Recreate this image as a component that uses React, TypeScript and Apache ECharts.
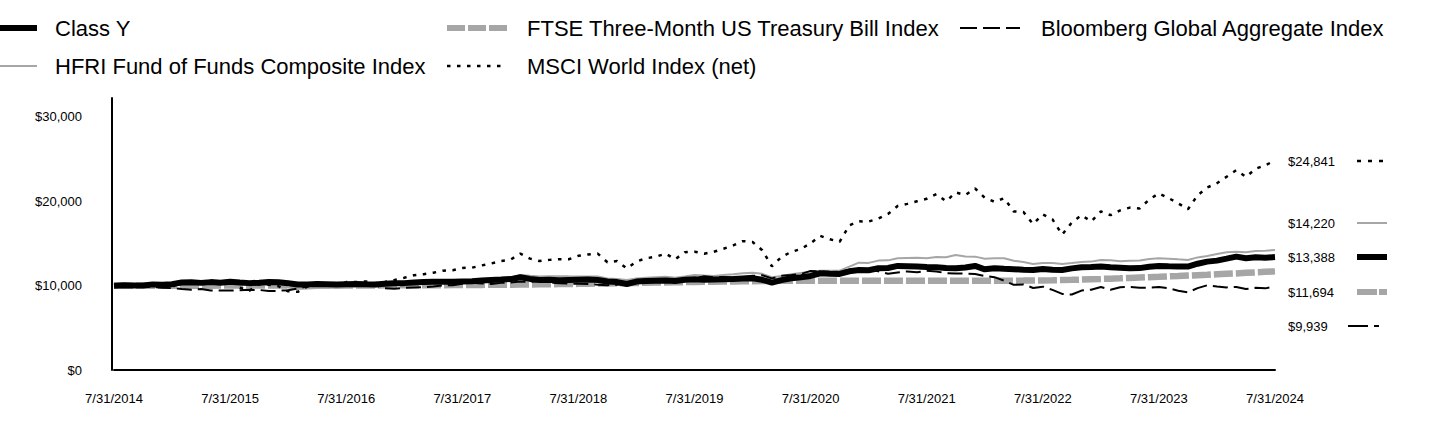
import React, { useEffect, useRef } from "react";
import * as echarts from "echarts";

const FONT = '"Liberation Sans", Arial, Helvetica, sans-serif';

const seriesNames = [
  "Class Y",
  "FTSE Three-Month US Treasury Bill Index",
  "Bloomberg Global Aggregate Index",
  "HFRI Fund of Funds Composite Index",
  "MSCI World Index (net)",
];

// Monthly values, 7/31/2014 .. 7/31/2024 (121 points)
const classY = [
  10000, 10060, 10020, 10010, 10150, 10120,
  10180, 10380, 10400, 10330, 10420, 10350, 10470, 10380, 10300, 10350, 10420, 10400,
  10280, 10130, 10150, 10200, 10170, 10140, 10180, 10200, 10170, 10150, 10230, 10280,
  10300, 10380, 10420, 10450, 10470, 10460, 10500, 10520, 10600, 10680, 10720, 10780,
  11000, 10800, 10680, 10700, 10650, 10680, 10700, 10720, 10680, 10500, 10420, 10200,
  10480, 10560, 10590, 10620, 10550, 10700, 10760, 10700, 10720, 10760, 10800, 10850,
  10870, 10700, 10360, 10650, 10870, 11000, 11150, 11470, 11420, 11390, 11700, 11860,
  11820, 12060, 12100, 12340, 12300, 12260, 12200, 12180, 12100, 12060, 12150, 12340,
  11940, 12060, 12000, 11950, 11900, 11860, 11980, 11900, 11860, 12050, 12180, 12200,
  12260, 12180, 12120, 12060, 12080, 12250, 12340, 12300, 12280, 12260, 12600, 12850,
  12970, 13200, 13440, 13250, 13370, 13320, 13388,
];

const ftse = [
  10000, 10001, 10001, 10002, 10002, 10003,
  10003, 10003, 10004, 10004, 10004, 10005, 10005, 10006, 10006, 10006, 10007, 10009,
  10012, 10015, 10017, 10019, 10021, 10023, 10025, 10027, 10030, 10032, 10035, 10038,
  10042, 10046, 10050, 10056, 10062, 10069, 10077, 10085, 10092, 10100, 10108, 10117,
  10128, 10140, 10153, 10167, 10182, 10197, 10213, 10230, 10247, 10265, 10283, 10302,
  10322, 10341, 10361, 10381, 10401, 10421, 10440, 10458, 10475, 10491, 10505, 10519,
  10533, 10546, 10568, 10570, 10571, 10572, 10573, 10574, 10575, 10576, 10577, 10578,
  10578, 10579, 10579, 10579, 10580, 10580, 10580, 10581, 10581, 10581, 10581, 10582,
  10582, 10583, 10586, 10592, 10598, 10610, 10623, 10642, 10664, 10690, 10721, 10757,
  10794, 10833, 10874, 10917, 10961, 11005, 11050, 11097, 11144, 11193, 11241, 11290,
  11345, 11398, 11450, 11520, 11575, 11635, 11694,
];

const bloomberg = [
  10000, 10030, 9860, 9830, 9850, 9760,
  9700, 9600, 9520, 9600, 9430, 9440, 9420, 9460, 9510, 9490, 9360, 9390,
  9460, 9670, 9920, 10050, 9950, 10240, 10310, 10270, 10330, 10040, 9700, 9640,
  9740, 9780, 9810, 9900, 10040, 10050, 10220, 10350, 10250, 10210, 10330, 10380,
  10500, 10440, 10550, 10360, 10280, 10240, 10220, 10210, 10120, 10060, 10100, 10290,
  10480, 10420, 10490, 10470, 10620, 10900, 10880, 11130, 10980, 11040, 10960, 11030,
  11170, 11240, 10860, 11170, 11270, 11380, 11750, 11680, 11620, 11650, 11880, 11990,
  11890, 11700, 11420, 11560, 11690, 11590, 11760, 11690, 11480, 11450, 11420, 11380,
  11150, 11010, 10600, 10100, 10150, 9730, 9880, 9500, 9020, 8950, 9420, 9520,
  9840, 9520, 9820, 9860, 9760, 9760, 9830, 9690, 9400, 9200, 9710, 10050,
  9910, 9790, 9850, 9610, 9740, 9680, 9939,
];

const hfri = [
  10000, 10080, 10050, 10060, 10150, 10130,
  10120, 10300, 10380, 10350, 10450, 10380, 10420, 10220, 10050, 10120, 10150, 10080,
  9780, 9600, 9650, 9720, 9780, 9720, 9850, 9900, 9950, 9900, 9950, 10050,
  10150, 10250, 10300, 10350, 10400, 10420, 10550, 10600, 10700, 10800, 10850, 10950,
  11270, 11180, 11100, 11120, 11130, 11110, 11100, 11080, 11100, 10850, 10800, 10680,
  10850, 10950, 11000, 11050, 10950, 11100, 11270, 11200, 11150, 11250, 11350, 11480,
  11540, 11400, 11000, 11150, 11350, 11500, 11650, 11780, 11780, 11780, 12250, 12730,
  12700, 12970, 13000, 13250, 13280, 13300, 13250, 13400, 13380, 13640, 13450, 13440,
  13200, 13250, 13250, 12950, 12800, 12570, 12700, 12700, 12570, 12680, 12800, 12850,
  13050, 13000, 12900, 12950, 12970, 13150, 13250, 13200, 13120, 13050, 13350, 13520,
  13750, 13950, 14030, 13950, 14100, 14150, 14220,
];

const msci = [
  10000, 10210, 9934, 9994, 10194, 10031,
  9840, 10420, 10264, 10500, 10521, 10279, 10464, 9773, 9411, 10164, 10113, 9931,
  9335, 9270, 9900, 10058, 10118, 10007, 10427, 10435, 10490, 10286, 10432, 10680,
  10933, 11239, 11363, 11533, 11775, 11822, 12106, 12130, 12397, 12632, 12910, 13091,
  13800, 13206, 12915, 13057, 13135, 13128, 13535, 13697, 13800, 12773, 12914, 12050,
  12863, 13249, 13421, 13800, 13130, 13962, 14032, 13790, 14026, 14376, 14779, 15280,
  15180, 14200, 12300, 13420, 14000, 14345, 15034, 15900, 15496, 15200, 17150, 17632,
  17600, 17950, 18501, 19450, 19700, 20000, 20296, 20850, 20000, 21050, 20750, 21520,
  20420, 19950, 20360, 18800, 18730, 17300, 18450, 17850, 16050, 17500, 18360, 17620,
  18800, 18353, 18922, 19256, 19150, 20214, 20950, 20380, 19750, 19060, 20718, 21640,
  22150, 22918, 23690, 22900, 23870, 24278, 24841,
];

const yTicks = [0, 10000, 20000, 30000];

// month-end category labels
const categories: string[] = [];
for (let i = 0; i < 121; i++) {
  const y = 2014 + Math.floor((6 + i) / 12);
  const m = (6 + i) % 12; // 0-based
  const d = new Date(y, m + 1, 0).getDate();
  categories.push(`${m + 1}/${d}/${y}`);
}

const fmt = (v: number) => "$" + v.toLocaleString("en-US");
const last = (a: number[]) => a[a.length - 1];

const BLACK = "#000000";
const GRAY = "#A6A6A6";

export default function App() {
  const ref = useRef<HTMLDivElement>(null);

  useEffect(() => {
    document.body.style.margin = "0";
    if (!ref.current) return;
    const chart = echarts.init(ref.current, undefined, { renderer: "svg" });

    const legendText = (text: string, x: number, y: number) => ({
      type: "text",
      x,
      y,
      style: { text, fontSize: 22, fontFamily: FONT, fill: BLACK, verticalAlign: "middle", align: "left" },
    });
    const seg = (x1: number, x2: number, y: number, stroke: string, lineWidth: number, lineDash?: number[]) => ({
      type: "line",
      shape: { x1, y1: y, x2, y2: y },
      style: { stroke, lineWidth, lineDash: lineDash || null },
    });
    const endText = (text: string, y: number) => ({
      type: "text",
      x: 1288,
      y,
      style: { text, fontSize: 13, fontFamily: FONT, fill: BLACK, verticalAlign: "middle", align: "left" },
    });

    const option: any = {
      animation: false,
      textStyle: { fontFamily: FONT },
      grid: { left: 114, right: 165, top: 98, bottom: 62, containLabel: false },
      xAxis: {
        type: "category",
        data: categories,
        boundaryGap: false,
        axisLine: { show: true, lineStyle: { color: BLACK, width: 2 } },
        axisTick: { show: false },
        splitLine: { show: false },
        axisLabel: { interval: 11, margin: 22, fontSize: 13, color: BLACK, fontFamily: FONT },
      },
      yAxis: {
        type: "value",
        min: 0,
        max: 32250,
        interval: 10000,
        offset: 2,
        axisLine: { show: true, lineStyle: { color: BLACK, width: 2 } },
        axisTick: { show: false },
        splitLine: { show: false },
        axisLabel: {
          margin: 30,
          fontSize: 13,
          color: BLACK,
          fontFamily: FONT,
          formatter: (v: number) => (yTicks.indexOf(v) >= 0 ? fmt(v) : ""),
        },
      },
      series: [
        {
          name: seriesNames[1],
          type: "line",
          data: ftse,
          symbol: "none",
          silent: true,
          lineStyle: { color: GRAY, width: 6.5, type: [19, 3] },
          z: 2,
        },
        {
          name: seriesNames[3],
          type: "line",
          data: hfri,
          symbol: "none",
          silent: true,
          lineStyle: { color: GRAY, width: 2 },
          z: 3,
        },
        {
          name: seriesNames[2],
          type: "line",
          data: bloomberg,
          symbol: "none",
          silent: true,
          lineStyle: { color: BLACK, width: 2, type: [15, 6] },
          z: 4,
        },
        {
          name: seriesNames[4],
          type: "line",
          data: msci,
          symbol: "none",
          silent: true,
          lineStyle: { color: BLACK, width: 2.5, type: [3.5, 6.5] },
          z: 5,
        },
        {
          name: seriesNames[0],
          type: "line",
          data: classY,
          symbol: "none",
          silent: true,
          lineStyle: { color: BLACK, width: 6 },
          z: 6,
        },
      ],
      graphic: [
        // legend
        seg(0, 37, 28, BLACK, 6),
        legendText(seriesNames[0], 55, 28),
        seg(447, 508, 28, GRAY, 6, [18, 3]),
        legendText(seriesNames[1], 527, 28),
        seg(960, 1020, 28, BLACK, 2, [17, 6]),
        legendText(seriesNames[2], 1041, 28),
        seg(0, 37, 66, GRAY, 2),
        legendText(seriesNames[3], 55, 66),
        seg(447, 506, 66, BLACK, 2.5, [3.5, 6.5]),
        legendText(seriesNames[4], 527, 66),
        // end labels
        endText(fmt(last(msci)), 161),
        seg(1357, 1383, 161, BLACK, 2.5, [4, 7]),
        endText(fmt(last(hfri)), 223),
        seg(1357, 1387, 223, GRAY, 2),
        endText(fmt(last(classY)), 257),
        seg(1357, 1387, 257, BLACK, 6),
        endText(fmt(last(ftse)), 292),
        seg(1357, 1387, 292, GRAY, 6, [20, 2]),
        endText(fmt(last(bloomberg)), 326),
        seg(1348, 1379, 326, BLACK, 2, [20, 6]),
      ],
    };

    chart.setOption(option);
    return () => chart.dispose();
  }, []);

  return <div ref={ref} style={{ width: 1440, height: 432 }} />;
}
